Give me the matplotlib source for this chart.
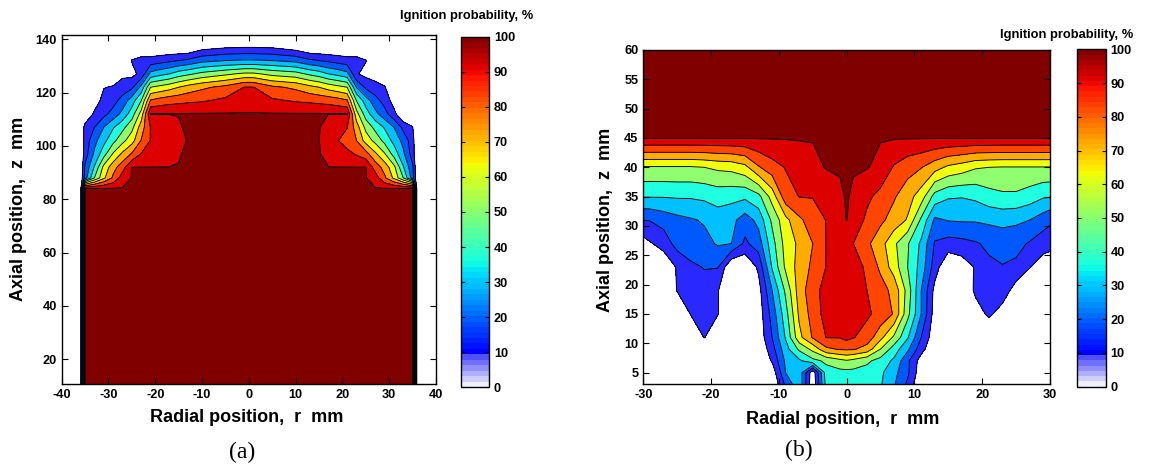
import numpy as np
import matplotlib
matplotlib.use("Agg")
import matplotlib.pyplot as plt
from matplotlib.colors import ListedColormap, Normalize
from matplotlib.cm import ScalarMappable

plt.rcParams["font.family"] = ["Liberation Sans", "DejaVu Sans"]
plt.rcParams["axes.unicode_minus"] = False

# ---------------- (a) ignition probability map, r-z grid ----------------
r_a = [-36, -35, -33, -31, -29, -27, -25, -23, -21, -19, -17, -15, -13, -10, -5, -1, 0,
       1, 5, 10, 13, 15, 17, 19, 21, 23, 25, 27, 29, 31, 33, 35, 36]
z_a = [10, 84, 88, 92, 97, 102, 107, 112, 117, 122, 127, 132, 137, 142]
p_a = [
    [0, 100, 100, 100, 100, 100, 100, 100, 100, 100, 100, 100, 100, 100, 100, 100, 100,
     100, 100, 100, 100, 100, 100, 100, 100, 100, 100, 100, 100, 100, 100, 100, 0],
    [0, 100, 100, 100, 100, 100, 100, 100, 100, 100, 100, 100, 100, 100, 100, 100, 100,
     100, 100, 100, 100, 100, 100, 100, 100, 100, 100, 100, 100, 100, 100, 100, 0],
    [0, 25, 50, 68, 82, 95, 100, 100, 100, 100, 100, 100, 100, 100, 100, 100, 100,
     100, 100, 100, 100, 100, 100, 100, 100, 100, 100, 95, 82, 68, 50, 25, 0],
    [0, 22, 41, 63, 76, 86, 99.6, 99.6, 99.6, 99.6, 99.6, 99.6, 100, 100, 100, 100, 100,
     100, 100, 100, 100, 100, 99.6, 99.6, 99.6, 99.6, 99.6, 86, 76, 63, 41, 22, 0],
    [0, 15, 32, 46, 61, 72, 81, 90.5, 93, 94, 96, 99.3, 100, 100, 100, 100, 100,
     100, 100, 100, 100, 100, 97, 93, 93, 89, 84, 72, 61, 46, 32, 15, 0],
    [0, 14, 27, 37, 47, 57, 66, 80.5, 90.5, 93, 96, 97, 100, 100, 100, 100, 100,
     100, 100, 100, 100, 99.6, 95, 90.5, 85, 80, 66, 57, 47, 37, 27, 14, 0],
    [0, 14, 20, 30, 39, 47, 57, 75, 90.5, 93, 96, 99.2, 100, 100, 100, 100, 100,
     100, 100, 100, 100, 100, 96, 92, 90.5, 75, 57, 47, 39, 30, 17, 10.5, 0],
    [0, 0, 12, 17, 24, 33, 45, 64, 99.6, 99.6, 99.6, 99.6, 100, 100, 100, 100, 100,
     100, 100, 100, 100, 100, 99.6, 99.6, 99.6, 64, 45, 33, 24, 13, 0, 0, 0],
    [0, 0, 4, 14, 16, 24, 35, 50, 81, 84, 86, 87, 88, 89, 92, 95, 95,
     95, 91.5, 89, 88, 87, 86, 84, 81, 50, 35, 24, 16, 6, 0, 0, 0],
    [0, 0, 0, 9.5, 11, 14, 18, 33, 60, 63, 66, 70, 74, 78, 83, 90.2, 90.5,
     90.2, 82, 78, 73, 70, 66, 63, 60, 30, 18, 14, 11, 0, 0, 0, 0],
    [0, 0, 0, 0, 2, 8, 7, 13, 33, 37, 40, 45, 48, 53, 58, 62, 62,
     62, 57, 54, 48, 45, 40, 37, 33, 11, 7, 5, 0, 0, 0, 0, 0],
    [0, 0, 0, 0, 0, 0, 10.5, 14, 14, 16, 18, 20, 22, 27, 30, 31, 31,
     31, 30, 27, 22, 20, 18, 16, 14, 14, 10.5, 0, 0, 0, 0, 0, 0],
    [0, 0, 0, 0, 0, 0, 0, 0, 0, 0, 0, 0, 0, 6, 9, 9.8, 9.8,
     9.8, 9, 5, 0, 0, 0, 0, 0, 0, 0, 0, 0, 0, 0, 0, 0],
    [0, 0, 0, 0, 0, 0, 0, 0, 0, 0, 0, 0, 0, 0, 0, 0, 0,
     0, 0, 0, 0, 0, 0, 0, 0, 0, 0, 0, 0, 0, 0, 0, 0],
]

# ---------------- (b) ignition probability map, r-z grid ----------------
r_b = [-30, -29, -27, -25, -23, -21, -19, -17, -15, -13, -11, -9, -7, -5, -3, -1, 0,
       1, 3, 5, 7, 9, 11, 13, 15, 17, 19, 21, 23, 25, 27, 29, 30]
z_b = [3, 5, 7, 9, 11, 15, 19, 23, 27, 31, 35, 40, 45, 50, 60]
p_b = [
    [0, 0, 0, 0, 0, 0, 0, 0, 0, 0, 0, 22, 38, 1, 44, 45, 45,
     45, 44, 41, 31, 18, 0, 0, 0, 0, 0, 0, 0, 0, 0, 0, 0],
    [0, 0, 0, 0, 0, 0, 0, 0, 0, 0, 3, 30, 37, 3, 46, 47, 47,
     47, 46, 42, 33, 22, 3, 0, 0, 0, 0, 0, 0, 0, 0, 0, 0],
    [0, 0, 0, 0, 0, 0, 0, 0, 0, 0, 11, 32, 38, 47, 52, 57, 59,
     57, 52, 46, 38, 22, 5, 0, 0, 0, 0, 0, 0, 0, 0, 0, 0],
    [0, 0, 0, 0, 0, 0, 0, 0, 0, 0, 16, 36, 52, 63, 78, 81, 81.5,
     81, 76, 60, 45, 32, 14, 0, 0, 0, 0, 0, 0, 0, 0, 0, 0],
    [0, 0, 0, 0, 0, 10.5, 0, 0, 0, 3, 20, 41, 67, 81, 90.3, 90.5, 93,
     90.5, 86, 73, 58, 41, 20, 3, 0, 0, 0, 0, 0, 0, 0, 0, 0],
    [0, 0, 0, 0, 10.5, 15, 10.5, 0, 0, 4, 24, 46, 72, 84, 94, 97, 97,
     97, 91.5, 87, 79, 53, 30, 5, 0, 0, 5, 12, 5, 0, 0, 0, 0],
    [0, 0, 0, 10.5, 15, 16, 10.5, 0, 0, 6, 30, 52, 75, 86, 94, 97, 97,
     97, 90, 84, 77, 56, 30, 7, 0, 0, 12, 15, 16, 5, 0, 0, 0],
    [0, 0, 2, 11, 18, 20.5, 20.5, 0, 0, 12, 41, 62, 74, 82, 90.3, 95, 97,
     95, 88, 78, 65, 50, 36, 15, 0, 4, 11, 18, 19.5, 18, 10.5, 5, 4],
    [6, 9, 14, 24, 26, 27, 31, 30, 18, 25, 46, 64, 72, 80, 90.3, 93, 93,
     90, 82, 74, 62, 51, 38, 19, 16, 17, 19, 22, 24, 23, 19, 14, 13],
    [20, 20.5, 24, 27, 29, 31, 35, 33, 25, 33, 52, 67, 78, 85, 90.3, 96, 99.7,
     96, 88, 82, 76, 69, 48, 28, 30.5, 31, 31, 32, 33, 32, 30, 25, 22],
    [40.5, 40.5, 40.5, 41, 41, 42, 44, 43, 42, 47, 64, 86, 90.2, 90.4, 93, 98.5, 100,
     98.5, 92, 87, 81, 74, 65, 46, 41, 40.5, 42, 46, 48, 48, 45, 41, 40.5],
    [59, 59, 59, 59, 59, 60, 62, 63, 67, 79, 86, 90.5, 95, 97, 100, 100, 100,
     100, 100, 97, 89, 84, 80.5, 74, 68, 65, 61, 60, 59.5, 59.5, 59.5, 59.5, 59.5],
    [100, 100, 100, 100, 100, 100, 100, 100, 100, 100, 100, 100, 100, 100, 100, 100, 100,
     100, 100, 100, 100, 100, 100, 100, 100, 100, 100, 100, 100, 100, 100, 100, 100],
    [100, 100, 100, 100, 100, 100, 100, 100, 100, 100, 100, 100, 100, 100, 100, 100, 100,
     100, 100, 100, 100, 100, 100, 100, 100, 100, 100, 100, 100, 100, 100, 100, 100],
    [100, 100, 100, 100, 100, 100, 100, 100, 100, 100, 100, 100, 100, 100, 100, 100, 100,
     100, 100, 100, 100, 100, 100, 100, 100, 100, 100, 100, 100, 100, 100, 100, 100],
]

levels = [10, 20, 30, 40, 50, 60, 70, 80, 90, 99.5, 101]
band_colors = ["#2828ff", "#0058ff", "#00c0ff", "#20ffdf", "#8fff70",
               "#efff10", "#ffab00", "#ff4500", "#dd0000", "#800000"]
cbar_ticks = [0, 10, 20, 30, 40, 50, 60, 70, 80, 90, 100]


def ignition_cmap(n=64):
    # white -> blue below 10 %, jet above
    jet = plt.get_cmap("jet")
    cols = []
    for i in range(n):
        v = (i + 0.5) * 100.0 / n
        if v < 10:
            t = v / 10.0
            cols.append((1 - 0.8 * t, 1 - 0.8 * t, 1.0))
        else:
            cols.append(jet(0.125 + (v - 10) / 90.0 * 0.875)[:3])
    return ListedColormap(cols)


def draw_map(ax, r, z, p, xlim, ylim, xticks, yticks):
    P = np.array(p, dtype=float)
    ax.contourf(r, z, P, levels=levels, colors=band_colors)
    ax.contour(r, z, P, levels=levels[:-1], colors="k", linewidths=0.65)
    ax.set_xlim(*xlim); ax.set_ylim(*ylim)
    ax.set_xticks(xticks); ax.set_yticks(yticks)
    ax.tick_params(direction="in", top=True, right=True, length=4, width=0.8, labelsize=9.2)
    for lab in ax.get_xticklabels() + ax.get_yticklabels():
        lab.set_fontweight("bold")
    for s in ax.spines.values():
        s.set_linewidth(1.0)


def draw_cbar(fig, rect, title_xy):
    cax = fig.add_axes(rect)
    sm = ScalarMappable(norm=Normalize(0, 100), cmap=ignition_cmap())
    cb = fig.colorbar(sm, cax=cax, ticks=cbar_ticks)
    cax.tick_params(direction="in", left=True, right=True, length=3, width=0.8, labelsize=9.2)
    for lab in cax.get_yticklabels():
        lab.set_fontweight("bold")
    cb.outline.set_linewidth(1.0)
    fig.text(title_xy[0], title_xy[1], "Ignition probability, %", ha="center", va="center",
             fontsize=9.3, fontweight="bold")


W, H = 1152, 466
fig = plt.figure(figsize=(W / 100, H / 100), dpi=100)

ax_a = fig.add_axes([61.7 / W, 1 - 384.3 / H, 374.3 / W, 349.6 / H])
draw_map(ax_a, r_a, z_a, p_a, (-40, 40), (10.6, 141.7),
         [-40, -30, -20, -10, 0, 10, 20, 30, 40], [20, 40, 60, 80, 100, 120, 140])
draw_cbar(fig, [460.7 / W, 1 - 387.3 / H, 28.3 / W, 350.6 / H], (467 / W, 1 - 16 / H))

ax_b = fig.add_axes([643.3 / W, 1 - 384.3 / H, 406.7 / W, 334.3 / H])
draw_map(ax_b, r_b, z_b, p_b, (-30, 30), (3, 60),
         [-30, -20, -10, 0, 10, 20, 30], [5, 10, 15, 20, 25, 30, 35, 40, 45, 50, 55, 60])
draw_cbar(fig, [1076.7 / W, 1 - 386.7 / H, 29 / W, 337.4 / H], (1066.5 / W, 1 - 35 / H))

lab_kw = dict(fontsize=13, fontweight="bold", ha="center", va="center")
fig.text(246.7 / W, 1 - 417 / H, "Radial position,  r  mm", **lab_kw)
fig.text(843 / W, 1 - 420 / H, "Radial position,  r  mm", **lab_kw)
fig.text(18.5 / W, 1 - 209 / H, "Axial position,  z  mm", rotation=90, **lab_kw)
fig.text(605 / W, 1 - 220 / H, "Axial position,  z  mm", rotation=90, **lab_kw)

fig.text(242 / W, 1 - 452 / H, "(a)", fontsize=17, family="Liberation Serif", ha="center", va="center")
fig.text(799 / W, 1 - 450 / H, "(b)", fontsize=17, family="Liberation Serif", ha="center", va="center")

fig.savefig("out.png", dpi=100)
